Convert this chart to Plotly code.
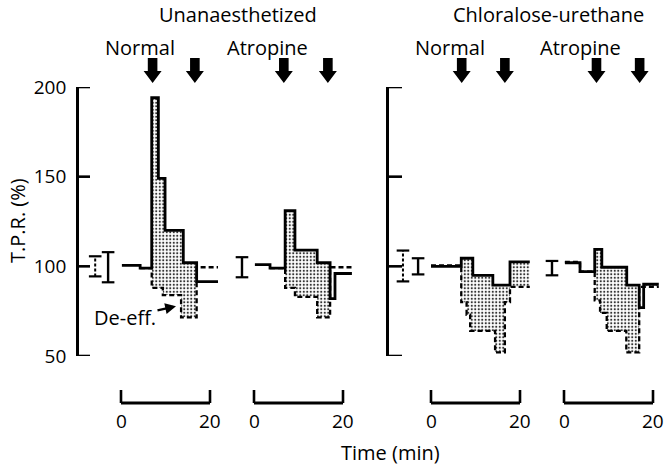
import plotly.graph_objects as go

# ---------------- data (time in min, T.P.R. in % of control) ----------------
y_ticks = [50, 100, 150, 200]
scale_ticks = [0, 20]

# Unanaesthetized - Normal
un_norm_solid_t = [0.2, 4.3, 6.9, 8.4, 9.9, 14.0, 17.0]
un_norm_solid_v = [100.5, 99, 194, 149, 120, 102, 91.5]
un_norm_dash_t = [4.3, 6.9, 9.4, 13.5, 17.0]
un_norm_dash_v = [99, 88, 84, 71.5, 99.5]
un_norm_end = 21.8
un_norm_err_t = [-5.8, -2.9]
un_norm_err_m = [100, 99.5]
un_norm_err_e = [5.6, 8.4]
un_norm_err_dashed = [True, False]
un_norm_arrows = [7.1, 16.6]

# Unanaesthetized - Atropine
un_atr_solid_t = [0.2, 3.6, 7.0, 9.2, 14.2, 17.1, 18.2]
un_atr_solid_v = [101, 99, 131, 109, 102, 82, 96]
un_atr_dash_t = [3.6, 7.0, 9.2, 14.2, 17.1]
un_atr_dash_v = [99, 88, 83, 71.5, 99.5]
un_atr_end = 22.0
un_atr_err_t = [-2.7]
un_atr_err_m = [99.5]
un_atr_err_e = [5.6]
un_atr_err_dashed = [False]
un_atr_arrows = [6.7, 16.6]

# Chloralose-urethane - Normal
ch_norm_solid_t = [0.0, 6.8, 9.4, 13.9, 17.75]
ch_norm_solid_v = [100, 104.5, 95, 89.5, 102.5]
ch_norm_dash_t = [0.0, 6.8, 8.0, 8.8, 14.4, 16.6, 17.75]
ch_norm_dash_v = [100.5, 80, 73, 64, 52, 80, 88.5]
ch_norm_end = 22.2
ch_norm_err_t = [-6.3, -2.9]
ch_norm_err_m = [100.2, 100]
ch_norm_err_e = [8.6, 4.5]
ch_norm_err_dashed = [True, False]
ch_norm_arrows = [6.9, 16.6]

# Chloralose-urethane - Atropine
ch_atr_solid_t = [0.2, 3.6, 6.9, 8.5, 14.1, 16.9, 17.9]
ch_atr_solid_v = [102, 97, 109.5, 99.5, 89.5, 77, 90]
ch_atr_dash_t = [0.2, 3.6, 6.9, 8.1, 9.6, 14.0, 16.9]
ch_atr_dash_v = [102.5, 97, 81, 74, 64, 52, 88.5]
ch_atr_end = 21.3
ch_atr_err_t = [-2.7]
ch_atr_err_m = [99]
ch_atr_err_e = [4]
ch_atr_err_dashed = [False]
ch_atr_arrows = [7.3, 17.0]

# ---------------- layout geometry ----------------
W, H = 664, 466
S = 4.45           # px per minute
FONT = "Open Sans"
Y_TOP_PX, Y_BOT_PX = 87, 356


def px(x):
    return x / W


def py(y):
    return 1 - y / H


panels = [
    dict(xa="x", ya="y", x0=121, pa=88, pb=226,
         st=un_norm_solid_t, sv=un_norm_solid_v, dt=un_norm_dash_t, dv=un_norm_dash_v,
         end=un_norm_end, et=un_norm_err_t, em=un_norm_err_m, ee=un_norm_err_e,
         ed=un_norm_err_dashed, arr=un_norm_arrows),
    dict(xa="x2", ya="y", x0=254, pa=232, pb=362,
         st=un_atr_solid_t, sv=un_atr_solid_v, dt=un_atr_dash_t, dv=un_atr_dash_v,
         end=un_atr_end, et=un_atr_err_t, em=un_atr_err_m, ee=un_atr_err_e,
         ed=un_atr_err_dashed, arr=un_atr_arrows),
    dict(xa="x3", ya="y2", x0=431, pa=393, pb=540,
         st=ch_norm_solid_t, sv=ch_norm_solid_v, dt=ch_norm_dash_t, dv=ch_norm_dash_v,
         end=ch_norm_end, et=ch_norm_err_t, em=ch_norm_err_m, ee=ch_norm_err_e,
         ed=ch_norm_err_dashed, arr=ch_norm_arrows),
    dict(xa="x4", ya="y2", x0=564, pa=543, pb=664,
         st=ch_atr_solid_t, sv=ch_atr_solid_v, dt=ch_atr_dash_t, dv=ch_atr_dash_v,
         end=ch_atr_end, et=ch_atr_err_t, em=ch_atr_err_m, ee=ch_atr_err_e,
         ed=ch_atr_err_dashed, arr=ch_atr_arrows),
]


def step_at(ts, vs, t):
    val = None
    for ti, vi in zip(ts, vs):
        if ti <= t + 1e-9:
            val = vi
    return val


def fill_polys(st, sv, dt, dv, end):
    lo = max(st[0], dt[0])
    bps = sorted(set([b for b in st + dt if lo <= b <= end] + [lo, end]))
    polys, run = [], []
    for a, b in zip(bps[:-1], bps[1:]):
        m = (a + b) / 2
        s, d = step_at(st, sv, m), step_at(dt, dv, m)
        if s is not None and d is not None and s > d + 0.5:
            run.append((a, b, s, d))
        else:
            if run:
                polys.append(run)
            run = []
    if run:
        polys.append(run)
    out = []
    for r in polys:
        xs, ys = [], []
        for a, b, s, d in r:
            xs += [a, b]
            ys += [s, s]
        for a, b, s, d in reversed(r):
            xs += [b, a]
            ys += [d, d]
        xs.append(xs[0])
        ys.append(ys[0])
        out.append((xs, ys))
    return out


fig = go.Figure()
shapes, annotations = [], []

for p in panels:
    # dotted fill between the two curves
    for xs, ys in fill_polys(p["st"], p["sv"], p["dt"], p["dv"], p["end"]):
        fig.add_trace(go.Scatter(
            x=xs, y=ys, xaxis=p["xa"], yaxis=p["ya"], mode="lines",
            line=dict(width=0), fill="toself", fillcolor="rgba(0,0,0,0)",
            fillpattern=dict(shape=".", fgcolor="#333333", bgcolor="white",
                             size=3.5, solidity=0.3),
            hoverinfo="skip", showlegend=False))
    # dashed (de-efferented) curve
    fig.add_trace(go.Scatter(
        x=p["dt"] + [p["end"]], y=p["dv"] + [p["dv"][-1]],
        xaxis=p["xa"], yaxis=p["ya"], mode="lines",
        line=dict(shape="hv", color="black", width=2.3, dash="5px,3px"),
        showlegend=False))
    # solid curve
    fig.add_trace(go.Scatter(
        x=p["st"] + [p["end"]], y=p["sv"] + [p["sv"][-1]],
        xaxis=p["xa"], yaxis=p["ya"], mode="lines",
        line=dict(shape="hv", color="black", width=2.8),
        showlegend=False))
    # error bars
    for t, m, e, dashed in zip(p["et"], p["em"], p["ee"], p["ed"]):
        fig.add_trace(go.Scatter(
            x=[t, t], y=[m - e, m + e], xaxis=p["xa"], yaxis=p["ya"],
            mode="lines+markers",
            line=dict(color="black", width=2 if dashed else 2.4,
                      dash="3px,2px" if dashed else "solid"),
            marker=dict(symbol="line-ew", size=9,
                        line=dict(color="black", width=2.2)),
            showlegend=False))
    # time scale bar
    yb = py(403)
    yt = py(390)
    shapes.append(dict(type="line", xref=p["xa"], yref="paper",
                       x0=scale_ticks[0], x1=scale_ticks[-1], y0=yb, y1=yb,
                       line=dict(color="black", width=2.8)))
    for tk in scale_ticks:
        shapes.append(dict(type="line", xref=p["xa"], yref="paper",
                           x0=tk, x1=tk, y0=yb, y1=yt,
                           line=dict(color="black", width=2.6)))
        annotations.append(dict(text=str(tk), xref=p["xa"], yref="paper",
                                x=tk, y=py(421), showarrow=False,
                                xanchor="center", yanchor="middle",
                                font=dict(family=FONT, size=19, color="black")))
    # injection arrows
    hw_s, hw_h = 4.8 / S, 9 / S
    y_top, y_mid, y_tip = py(58), py(71), py(83)
    for a in p["arr"]:
        path = (f"M {a - hw_s},{y_top} L {a + hw_s},{y_top} L {a + hw_s},{y_mid} "
                f"L {a + hw_h},{y_mid} L {a},{y_tip} L {a - hw_h},{y_mid} "
                f"L {a - hw_s},{y_mid} Z")
        shapes.append(dict(type="path", xref=p["xa"], yref="paper", path=path,
                           fillcolor="black", line=dict(width=0)))

# y-axis tick marks (pointing into the plot)
for tv in y_ticks:
    shapes.append(dict(type="line", xref="paper", yref="y", x0=px(77), x1=px(90),
                       y0=tv, y1=tv, line=dict(color="black", width=2.6)))
    shapes.append(dict(type="line", xref="paper", yref="y2", x0=px(387), x1=px(402),
                       y0=tv, y1=tv, line=dict(color="black", width=2.6)))


# text labels
def label(text, x, y, size=20):
    annotations.append(dict(text=text, xref="paper", yref="paper", x=px(x), y=py(y),
                            showarrow=False, xanchor="center", yanchor="middle",
                            font=dict(family=FONT, size=size, color="black")))


label("Unanaesthetized", 238, 15)
label("Chloralose-urethane", 548, 15)
label("Normal", 140, 47)
label("Atropine", 267, 47)
label("Normal", 450, 47)
label("Atropine", 580, 47)
label("Time (min)", 390, 452)
annotations.append(dict(text="T.P.R. (%)", xref="paper", yref="paper",
                        x=px(18), y=py(221), textangle=-90, showarrow=False,
                        xanchor="center", yanchor="middle",
                        font=dict(family=FONT, size=20, color="black")))
# De-eff. pointer (panel 1)
annotations.append(dict(text="De-eff.", xref="x", yref="y",
                        x=(176 - 121) / S, y=100 + (266 - 306) / 1.793,
                        ax=-51, ay=11, showarrow=True, arrowhead=2,
                        arrowsize=0.9, arrowwidth=2.4, arrowcolor="black",
                        standoff=0,
                        font=dict(family=FONT, size=20, color="black")))

ydom = [py(Y_BOT_PX), py(Y_TOP_PX)]
common_y = dict(domain=ydom, range=[50, 200], anchor="free", showgrid=False,
                zeroline=False, showline=True, linecolor="black", linewidth=2.8,
                ticks="", tickvals=y_ticks, fixedrange=True, automargin=False)

layout = dict(
    template="none",
    width=W, height=H, margin=dict(l=0, r=0, t=0, b=0, pad=0, autoexpand=False),
    autosize=False,
    paper_bgcolor="white", plot_bgcolor="rgba(0,0,0,0)",
    showlegend=False, shapes=shapes, annotations=annotations,
    yaxis=dict(common_y, position=px(77), ticklabelstandoff=6,
               tickfont=dict(family=FONT, size=19, color="black")),
    yaxis2=dict(common_y, position=px(387), showticklabels=False),
)
for i, p in enumerate(panels):
    key = "xaxis" if i == 0 else f"xaxis{i + 1}"
    layout[key] = dict(domain=[px(p["pa"]), px(p["pb"])],
                       range=[(p["pa"] - p["x0"]) / S, (p["pb"] - p["x0"]) / S],
                       visible=False, anchor=p["ya"], fixedrange=True,
                       automargin=False)

fig.update_layout(**layout)
fig.write_html("out.html")
